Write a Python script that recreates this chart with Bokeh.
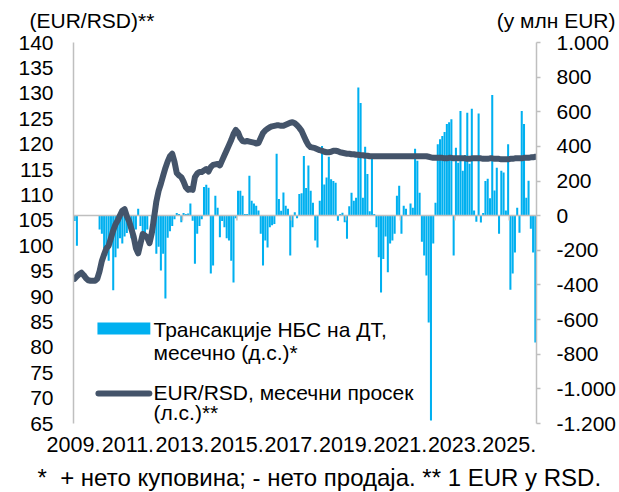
from bokeh.plotting import figure
from bokeh.layouts import column
from bokeh.models import (Range1d, LinearAxis, FixedTicker, CustomJSTickFormatter, Label)
from bokeh.core.properties import value
from bokeh.embed import file_html
from bokeh.resources import INLINE

# ---------------- data ----------------
start_year = 2009
year_ticks = [0, 24, 48, 72, 96, 120, 144, 168, 192]   # month index of Jan 2009, 2011, ...

# NBS transactions on the FX market, monthly (mn EUR), Jan 2009 -> Dec 2025
nbs_transactions = [
    -30, -173, 0, 0, 0, 0, 0, 0, 0, 0,
    0, -80, -104, -190, -230, -260, -160, -430, -240, -190,
    -130, -160, -120, -100, -60, -130, -160, -80, 40, -60,
    -100, -130, -80, 0, -40, -100, -220, -180, -317, -220,
    -478, -127, -90, -60, -20, 15, 10, -38, 15, 10,
    12, 70, -29, -277, -104, -60, -20, 165, 179, 161,
    -334, -288, 115, 46, -125, -30, -67, -130, -144, -260,
    -386, -15, 144, 144, 115, 10, 10, 230, 86, 70,
    58, 30, -104, -288, -144, -184, -67, -55, -48, 357,
    96, 29, 134, 58, 40, -230, -67, 20, -15, 125,
    130, 345, 160, 290, 144, 75, -144, -184, 86, 403,
    180, 220, 340, 210, 200, 190, -29, 10, 17, -38,
    -133, 55, 133, 86, 104, 740, 650, 104, 398, 240,
    25, 330, 10, -67, -240, -444, -250, -120, -327, -160,
    -144, -104, 115, 173, -104, 58, 40, 0, 70, 46,
    386, 317, 133, -150, -230, -346, -617, -1182, -161, 75,
    413, 442, 460, 483, 530, 540, 557, -230, 392, 305,
    605, 260, 350, 594, 300, 617, 30, -35, 590, -40,
    15, 200, 213, 100, 697, 145, 277, -104, 260, 250,
    30, 413, -427, -334, -213, 46, -98, 605, 530, 104,
    202, -75, -213, -732,
]

# EUR/RSD monthly average
eur_rsd = [
    93.5, 94.0, 94.4, 94.7, 94.2, 93.6, 93.2, 93.1, 93.1, 93.1,
    93.5, 95.0, 97.0, 98.3, 99.5, 100.0, 101.5, 103.0, 104.2, 105.0,
    106.0, 106.9, 107.2, 105.8, 104.8, 103.3, 101.8, 99.5, 98.5, 100.4,
    102.3, 102.0, 101.6, 100.5, 102.5, 105.5, 108.7, 110.8, 112.2, 113.8,
    115.3, 116.6, 117.6, 118.1, 116.5, 114.3, 113.8, 113.5, 112.6, 111.5,
    111.0, 111.2, 111.0, 113.5, 114.2, 114.5, 114.5, 114.8, 115.1, 114.6,
    115.5, 115.9, 116.0, 116.1, 115.8, 116.8, 117.8, 118.8, 119.8, 120.8,
    122.0, 122.8, 122.3, 121.2, 120.6, 120.5, 120.6, 120.5, 120.4, 120.3,
    120.1, 120.2, 121.2, 122.2, 122.7, 123.0, 123.3, 123.5, 123.6, 123.7,
    123.7, 123.6, 123.6, 123.8, 124.0, 124.2, 124.3, 124.1, 123.7, 123.2,
    122.6, 121.6, 120.6, 119.8, 119.4, 119.3, 119.2, 119.0, 118.8, 118.7,
    118.5, 118.4, 118.4, 118.5, 118.7, 118.7, 118.6, 118.4, 118.3, 118.2,
    118.1, 118.1, 118.0, 118.0, 117.9, 117.9, 117.8, 117.8, 117.7, 117.7,
    117.6, 117.6, 117.6, 117.6, 117.6, 117.6, 117.6, 117.6, 117.6, 117.6,
    117.6, 117.6, 117.6, 117.6, 117.6, 117.6, 117.6, 117.6, 117.6, 117.6,
    117.6, 117.6, 117.6, 117.6, 117.6, 117.6, 117.5, 117.4, 117.3, 117.3,
    117.3, 117.3, 117.3, 117.2, 117.2, 117.3, 117.3, 117.2, 117.2, 117.2,
    117.2, 117.2, 117.2, 117.1, 117.1, 117.2, 117.2, 117.2, 117.2, 117.2,
    117.1, 117.1, 117.1, 117.2, 117.2, 117.1, 117.1, 117.1, 117.0, 117.0,
    117.0, 117.0, 117.1, 117.1, 117.2, 117.2, 117.2, 117.2, 117.3, 117.3,
    117.3, 117.4, 117.4, 117.5,
]

left_ticks = list(range(65, 141, 5))
right_ticks = list(range(-1200, 1001, 200))

left_title = "(EUR/RSD)**"
right_title = "(у млн EUR)"
legend_bar = ["Трансакције НБС на ДТ,", "месечно (д.с.)*"]
legend_line = ["EUR/RSD, месечни просек", "(л.с.)**"]
footnote = "*\u00a0 + нето куповина; - нето продаја. ** 1 EUR у RSD."

# ---------------- styling / layout ----------------
FONT = "Liberation Sans"
FS = "21px"
BAR_COLOR = "#00b0f0"
LINE_COLOR = "#44546a"
AXIS_COLOR = "#bfbfbf"

W, H = 619, 492
TOP_H, BOT_H = 32, 30                      # strips for titles and footnote
MAIN_H = H - TOP_H - BOT_H
FL, FR, FT, FB = 73, 537, 42, 423          # plot frame edges in page pixels

n = len(nbs_transactions)
xs = [i + 0.5 for i in range(n)]


def strip(height):
    f = figure(width=W, height=height, output_backend="svg", toolbar_location=None,
               x_range=Range1d(0, W), y_range=Range1d(height, 0),
               min_border=0, x_axis_location=None, y_axis_location=None,
               frame_align=False)
    f.outline_line_color = None
    f.xgrid.visible = False
    f.ygrid.visible = False
    f.background_fill_color = "white"
    f.border_fill_color = "white"
    return f


# title strip
top = strip(TOP_H)
top.text(x=[29], y=[19.5], text=[left_title], text_align="left", text_baseline="middle",
         text_font=value(FONT), text_font_size=value(FS), text_color="black")
top.text(x=[615], y=[19.5], text=[right_title], text_align="right", text_baseline="middle",
         text_font=value(FONT), text_font_size=value(FS), text_color="black")

# footnote strip
bot = strip(BOT_H)
bot.text(x=[37], y=[477 - (H - BOT_H)], text=[footnote], text_align="left", text_baseline="middle",
         text_font=value(FONT), text_font_size=value("24px"), text_color="black")

# main chart
p = figure(width=W, height=MAIN_H, output_backend="svg", toolbar_location=None,
           x_range=Range1d(0, n), y_range=Range1d(65, 140),
           min_border_left=FL, min_border_right=W - FR,
           min_border_top=FT - TOP_H, min_border_bottom=(TOP_H + MAIN_H) - FB,
           x_axis_location=None, y_axis_location=None, frame_align=False)
p.outline_line_color = None
p.xgrid.visible = False
p.ygrid.visible = False
p.background_fill_color = "white"
p.border_fill_color = "white"
p.extra_y_ranges = {"right": Range1d(-1200, 1000)}

# left axis
la = LinearAxis(ticker=FixedTicker(ticks=left_ticks))
la.axis_line_color = AXIS_COLOR
la.axis_line_width = 1.5
la.major_tick_line_color = None
la.major_tick_out = 0
la.major_tick_in = 0
la.minor_tick_line_color = None
la.major_label_standoff = 20
la.major_label_text_font = FONT
la.major_label_text_font_size = FS
la.major_label_text_color = "black"
p.add_layout(la, "left")

# right axis
ra = LinearAxis(y_range_name="right", ticker=FixedTicker(ticks=right_ticks),
                formatter=CustomJSTickFormatter(code="""
var a = Math.abs(tick); var s = String(a);
if (a >= 1000) { s = s.slice(0, s.length-3) + '.' + s.slice(s.length-3); }
return (tick < 0 ? '-' : '') + s;"""))
ra.axis_line_color = AXIS_COLOR
ra.axis_line_width = 1.5
ra.major_tick_line_color = AXIS_COLOR
ra.major_tick_line_width = 1.5
ra.major_tick_out = 4
ra.major_tick_in = 0
ra.minor_tick_line_color = None
ra.major_label_standoff = 16
ra.major_label_text_font = FONT
ra.major_label_text_font_size = FS
ra.major_label_text_color = "black"
p.add_layout(ra, "right")

# bottom axis (labels only)
ba = LinearAxis(ticker=FixedTicker(ticks=year_ticks),
                formatter=CustomJSTickFormatter(args=dict(y0=start_year),
                                                code="return String(y0 + Math.round(tick/12)) + '.';"))
ba.axis_line_color = None
ba.major_tick_line_color = None
ba.major_tick_out = 0
ba.major_tick_in = 0
ba.minor_tick_line_color = None
ba.major_label_standoff = 13
ba.major_label_text_font = FONT
ba.major_label_text_font_size = "21.5px"
ba.major_label_text_color = "black"
p.add_layout(ba, "below")

# bars
p.vbar(x=xs, top=nbs_transactions, bottom=0, width=0.9, y_range_name="right",
       fill_color=BAR_COLOR, line_color=None)

# zero (category) axis line and its ticks
p.hspan(y=[0], y_range_name="right", line_color=AXIS_COLOR, line_width=1.5)
p.segment(x0=year_ticks, x1=year_ticks, y0=[0] * len(year_ticks), y1=[-28] * len(year_ticks),
          y_range_name="right", line_color=AXIS_COLOR, line_width=1.5)

# EUR/RSD line
p.line(x=xs, y=eur_rsd, line_color=LINE_COLOR, line_width=6, line_join="round", line_cap="round")


# legend (page pixel -> data helpers)
def dx(px):
    return (px - FL) / (FR - FL) * n


def dy(py):
    return 140 - (py - FT) / (FB - FT) * 75


def add_text(px, py, text):
    p.add_layout(Label(x=px, y=py - TOP_H, x_units="canvas", y_units="canvas", text=text,
                       text_align="left", text_baseline="middle",
                       text_font=FONT, text_font_size=FS, text_color="black"))


p.quad(left=[dx(97)], right=[dx(150)], top=[dy(322)], bottom=[dy(334)],
       fill_color=BAR_COLOR, line_color=None)
p.line(x=[dx(98), dx(149)], y=[dy(393), dy(393)], line_color=LINE_COLOR, line_width=6,
       line_cap="round")
add_text(153, 329, legend_bar[0])
add_text(153, 352, legend_bar[1])
add_text(153, 392, legend_line[0])
add_text(153, 412, legend_line[1])

layout = column(top, p, bot, spacing=0)
open("out.html", "w").write(file_html(layout, INLINE))
